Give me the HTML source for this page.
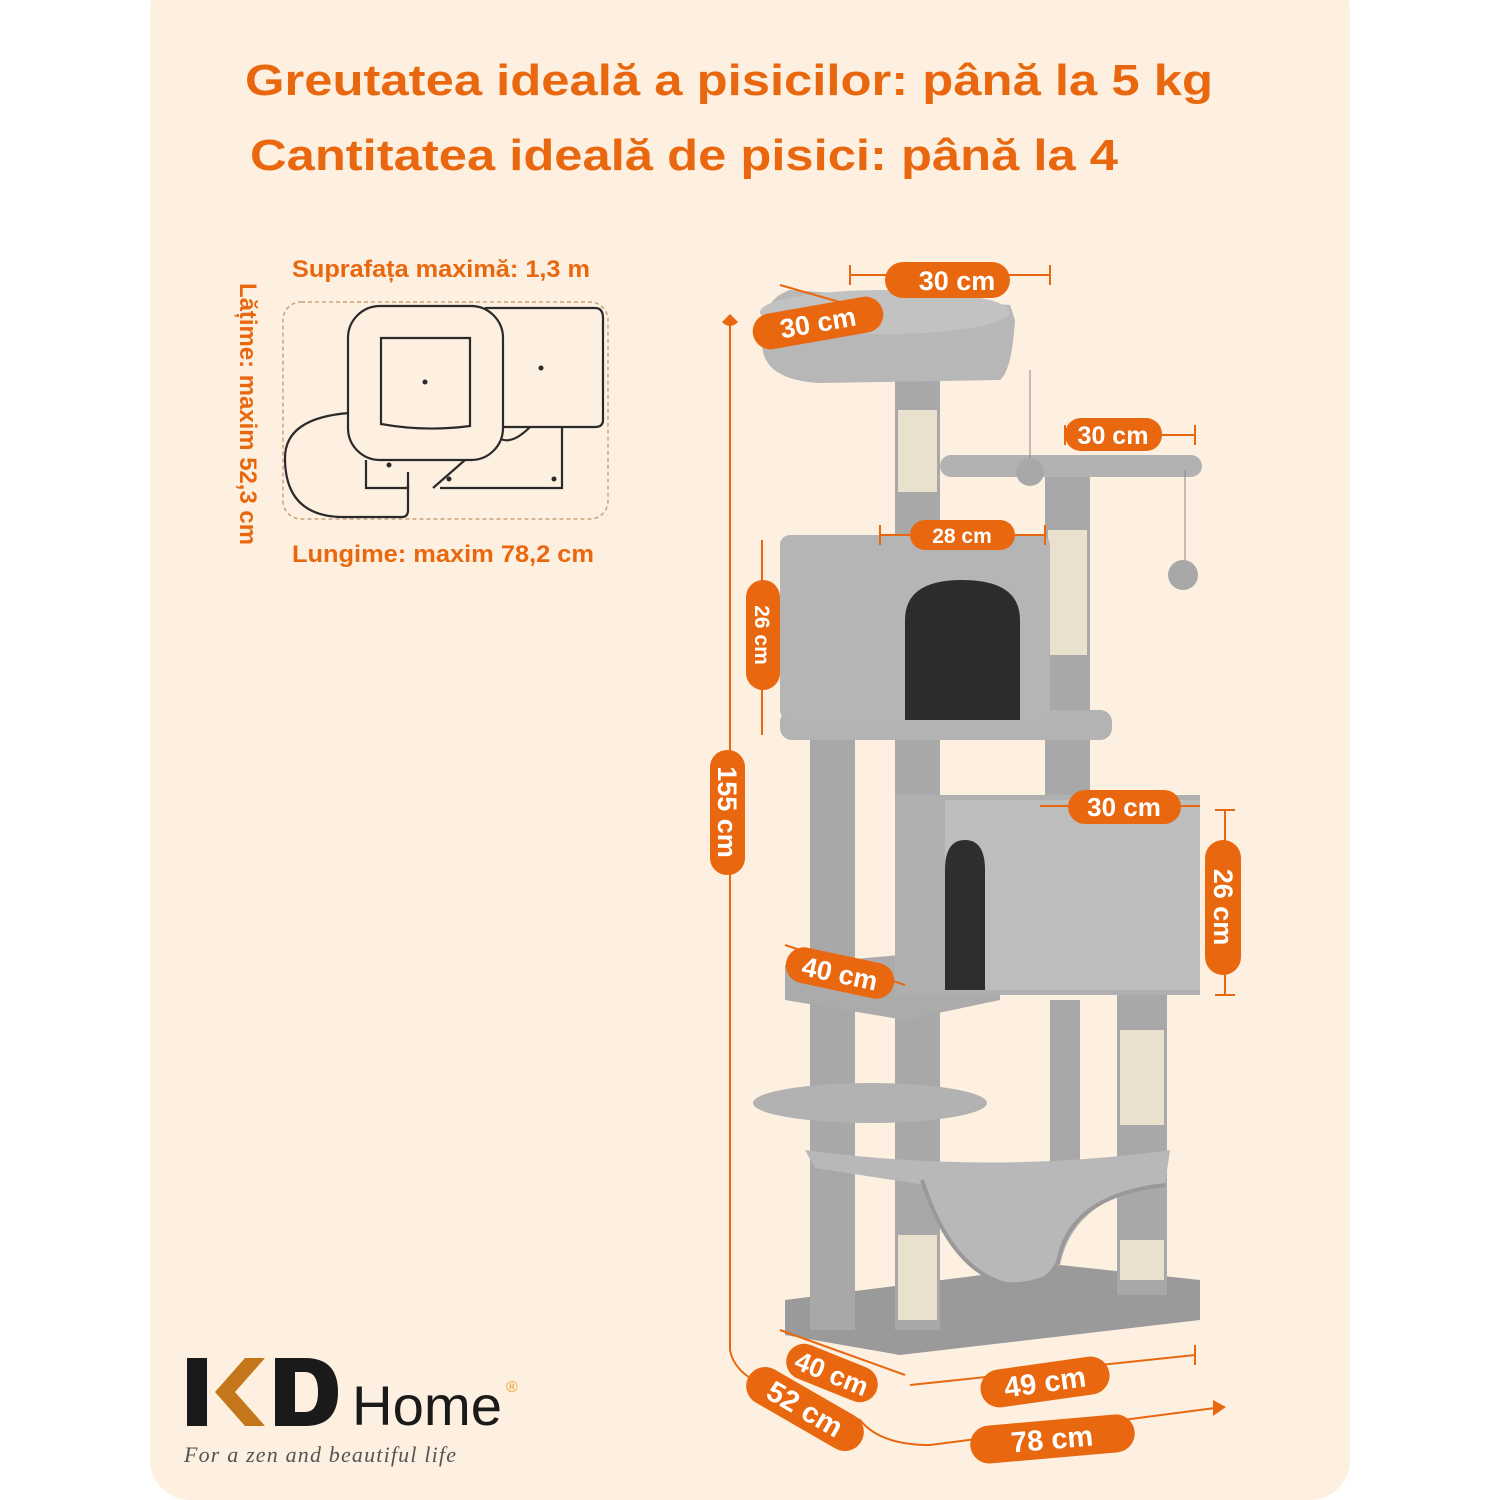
<!DOCTYPE html>
<html><head><meta charset="utf-8"><style>
html,body{margin:0;padding:0;background:#fff}
svg{display:block}
.o{fill:#e9680f;font-family:"Liberation Sans",sans-serif;font-weight:bold}
.p{fill:#fff;font-family:"Liberation Sans",sans-serif;font-weight:bold;font-size:27px}
</style></head><body>
<svg width="1500" height="1500" viewBox="0 0 1500 1500" xmlns="http://www.w3.org/2000/svg">
<rect x="150" y="-30" width="1200" height="1530" rx="40" fill="#fdf0e1"/>
<text class="o" x="245" y="95" font-size="44" textLength="968" lengthAdjust="spacingAndGlyphs">Greutatea ideală a pisicilor: până la 5 kg</text>
<text class="o" x="250" y="170" font-size="44" textLength="868" lengthAdjust="spacingAndGlyphs">Cantitatea ideală de pisici: până la 4</text>
<text x="292" y="277" fill="#e9680f" font-family="Liberation Sans,sans-serif" font-size="24" font-weight="600" textLength="298" lengthAdjust="spacingAndGlyphs">Suprafața maximă: 1,3 m</text>
<text x="292" y="562" fill="#e9680f" font-family="Liberation Sans,sans-serif" font-size="24" font-weight="600" textLength="302" lengthAdjust="spacingAndGlyphs">Lungime: maxim 78,2 cm</text>
<text transform="translate(240,283) rotate(90)" fill="#e9680f" font-family="Liberation Sans,sans-serif" font-size="24" font-weight="600" textLength="262" lengthAdjust="spacingAndGlyphs">Lățime: maxim 52,3 cm</text>
<rect x="283" y="302" width="325" height="217" rx="18" fill="none" stroke="#c9a27a" stroke-width="1.5" stroke-dasharray="4 3"/>
<g fill="none" stroke="#2a2a2a" stroke-width="2.2">
<path d="M366 460 L366 488 L408 488 L408 472"/>
<path d="M440 488 L562 488 L562 428"/>
<path d="M349 413 Q285 418 285 458 Q285 515 340 517 L402 517 Q408 517 408 510 L408 485"/>
<path d="M485 308 L595 308 Q603 308 603 318 L603 420 Q603 427 595 427 L500 427"/>
<path d="M492 430 Q505 452 530 427"/>
<path d="M465 460 L433 488"/>
</g>
<rect x="348" y="306" width="155" height="154" rx="32" fill="#fdf0e1" stroke="#2a2a2a" stroke-width="2.2"/>
<path d="M381 338 L470 338 L470 426 Q425 432 381 424 Z" fill="none" stroke="#2a2a2a" stroke-width="2.2"/>
<g fill="#2a2a2a"><circle cx="425" cy="382" r="2.5"/><circle cx="541" cy="368" r="2.5"/><circle cx="389" cy="465" r="2.5"/><circle cx="449" cy="479" r="2.5"/><circle cx="554" cy="479" r="2.5"/></g>
<g fill="#a8a8a8">
<path d="M785 1300 L1060 1265 L1200 1280 L1200 1320 L900 1355 L785 1335 Z" fill="#9a9a9a"/>
<rect x="810" y="740" width="45" height="590"/>
<rect x="895" y="370" width="45" height="960"/>
<rect x="1045" y="470" width="45" height="330"/>
<rect x="1050" y="1000" width="30" height="200"/>
<rect x="1117" y="995" width="50" height="300"/>
</g>
<g fill="#e9e1cd">
<rect x="898" y="410" width="39" height="82"/>
<rect x="1048" y="530" width="39" height="125"/>
<rect x="1120" y="1030" width="44" height="95"/>
<rect x="1120" y="1240" width="44" height="40"/>
<rect x="898" y="1235" width="39" height="85"/>
</g>
<path d="M805 1150 Q990 1175 1170 1150 L1165 1185 Q1075 1195 1060 1265 Q1040 1285 1000 1282 Q950 1260 925 1185 L815 1168 Z" fill="#b8b8b8"/>
<path d="M922 1180 Q950 1268 1005 1284 Q1045 1290 1058 1262 Q1070 1195 1165 1185" fill="none" stroke="#999" stroke-width="4"/>
<ellipse cx="870" cy="1103" rx="117" ry="20" fill="#b2b2b2"/>
<path d="M785 965 L900 955 L1000 970 L1000 1000 L905 1020 L785 1000 Z" fill="#ababab"/>
<rect x="895" y="795" width="305" height="200" fill="#b0b0b0"/>
<rect x="945" y="800" width="255" height="190" fill="#bdbdbd"/>
<path d="M945 990 L945 870 Q945 840 965 840 Q985 840 985 870 L985 990 Z" fill="#2e2e2e"/>
<rect x="780" y="710" width="332" height="30" rx="12" fill="#b3b3b3"/>
<rect x="780" y="535" width="270" height="185" rx="10" fill="#b5b5b5"/>
<path d="M905 720 L905 620 Q905 580 962 580 Q1020 580 1020 620 L1020 720 Z" fill="#2c2c2c"/>
<rect x="940" y="455" width="262" height="22" rx="11" fill="#b2b2b2"/>
<line x1="1185" y1="470" x2="1185" y2="565" stroke="#888" stroke-width="1"/>
<circle cx="1183" cy="575" r="15" fill="#a8a8a8"/>
<line x1="1030" y1="370" x2="1030" y2="462" stroke="#888"/>
<circle cx="1030" cy="472" r="14" fill="#a8a8a8"/>
<path d="M762 340 Q760 380 820 383 L1000 380 Q1012 370 1015 320 L1010 305 L790 290 Q760 300 762 340 Z" fill="#b7b7b7"/>
<ellipse cx="885" cy="312" rx="125" ry="22" fill="#c2c2c2"/>
<g stroke="#e9680f" stroke-width="2" fill="none">
<path d="M730 322 L730 1350 Q735 1380 790 1395 L860 1420 Q880 1445 930 1445 L1215 1408"/>
<line x1="850" y1="275" x2="1050" y2="275"/><line x1="850" y1="265" x2="850" y2="285"/><line x1="1050" y1="265" x2="1050" y2="285"/>
<line x1="1065" y1="435" x2="1195" y2="435"/><line x1="1065" y1="425" x2="1065" y2="445"/><line x1="1195" y1="425" x2="1195" y2="445"/>
<line x1="880" y1="535" x2="1045" y2="535"/><line x1="880" y1="525" x2="880" y2="545"/><line x1="1045" y1="525" x2="1045" y2="545"/>
<line x1="762" y1="540" x2="762" y2="735"/>
<line x1="1040" y1="806" x2="1200" y2="806"/>
<line x1="1225" y1="810" x2="1225" y2="995"/><line x1="1215" y1="810" x2="1235" y2="810"/><line x1="1215" y1="995" x2="1235" y2="995"/>
<line x1="785" y1="945" x2="905" y2="985"/>
<line x1="780" y1="1330" x2="905" y2="1375"/>
<line x1="910" y1="1385" x2="1195" y2="1355"/><line x1="1195" y1="1345" x2="1195" y2="1365"/>
<line x1="780" y1="285" x2="850" y2="305"/>
</g>
<path d="M722 322 L730 314 L738 322 Q730 330 722 322Z" fill="#e9680f"/>
<path d="M1213 1400 L1226 1407 L1213 1416 Z" fill="#e9680f"/>
<g fill="#e9680f">
<rect x="885" y="262" width="125" height="36" rx="18"/>
<rect x="752" y="305" width="132" height="36" rx="18" transform="rotate(-10 818 323)"/>
<rect x="1065" y="418" width="97" height="33" rx="16"/>
<rect x="910" y="520" width="105" height="30" rx="15"/>
<rect x="746" y="580" width="34" height="110" rx="17"/>
<rect x="710" y="750" width="35" height="125" rx="17"/>
<rect x="1068" y="790" width="113" height="34" rx="17"/>
<rect x="1205" y="840" width="36" height="135" rx="18"/>
<rect x="785" y="955" width="110" height="36" rx="18" transform="rotate(12 840 973)"/>
<rect x="784" y="1355" width="96" height="36" rx="18" transform="rotate(22 832 1373)"/>
<rect x="980" y="1363" width="130" height="38" rx="19" transform="rotate(-8 1045 1382)"/>
<rect x="740" y="1390" width="130" height="38" rx="19" transform="rotate(30 805 1409)"/>
<rect x="970" y="1420" width="165" height="38" rx="19" transform="rotate(-5 1052 1439)"/>
</g>
<g class="p" text-anchor="middle">
<text x="957" y="290">30 cm</text>
<text x="818" y="332" transform="rotate(-10 818 323)">30 cm</text>
<text x="1113" y="444" font-size="25">30 cm</text>
<text x="962" y="543" font-size="21">28 cm</text>
<text x="0" y="0" font-size="21" transform="translate(755,635) rotate(90)">26 cm</text>
<text x="0" y="0" transform="translate(718,812) rotate(90)">155 cm</text>
<text x="1124" y="816" font-size="26">30 cm</text>
<text x="0" y="0" transform="translate(1214,907) rotate(90)">26 cm</text>
<text x="840" y="983" transform="rotate(12 840 973)">40 cm</text>
<text x="832" y="1383" transform="rotate(22 832 1373)">40 cm</text>
<text x="1045" y="1392" font-size="29" transform="rotate(-8 1045 1382)">49 cm</text>
<text x="805" y="1419" font-size="29" transform="rotate(30 805 1409)">52 cm</text>
<text x="1052" y="1449" font-size="29" transform="rotate(-5 1052 1439)">78 cm</text>
</g>
<rect x="187" y="1358" width="20" height="68" fill="#1a1a1a"/>
<path d="M245 1358 L265 1358 L235 1392 L265 1426 L245 1426 L215 1392 Z" fill="#c5761a"/>
<path d="M275 1358 L305 1358 Q338 1358 338 1392 Q338 1426 305 1426 L275 1426 Z M295 1372 L295 1412 L305 1412 Q318 1412 318 1392 Q318 1372 305 1372 Z" fill="#1a1a1a" fill-rule="evenodd"/>
<text x="352" y="1425" font-family="Liberation Sans,sans-serif" font-size="56" fill="#1a1a1a" textLength="150" lengthAdjust="spacingAndGlyphs">Home</text>
<text x="506" y="1392" font-family="Liberation Sans,sans-serif" font-size="16" fill="#e9a030">®</text>
<text x="184" y="1462" font-family="Liberation Serif,serif" font-style="italic" font-size="22" fill="#555" textLength="272">For a zen and beautiful life</text>
</svg>
</body></html>
